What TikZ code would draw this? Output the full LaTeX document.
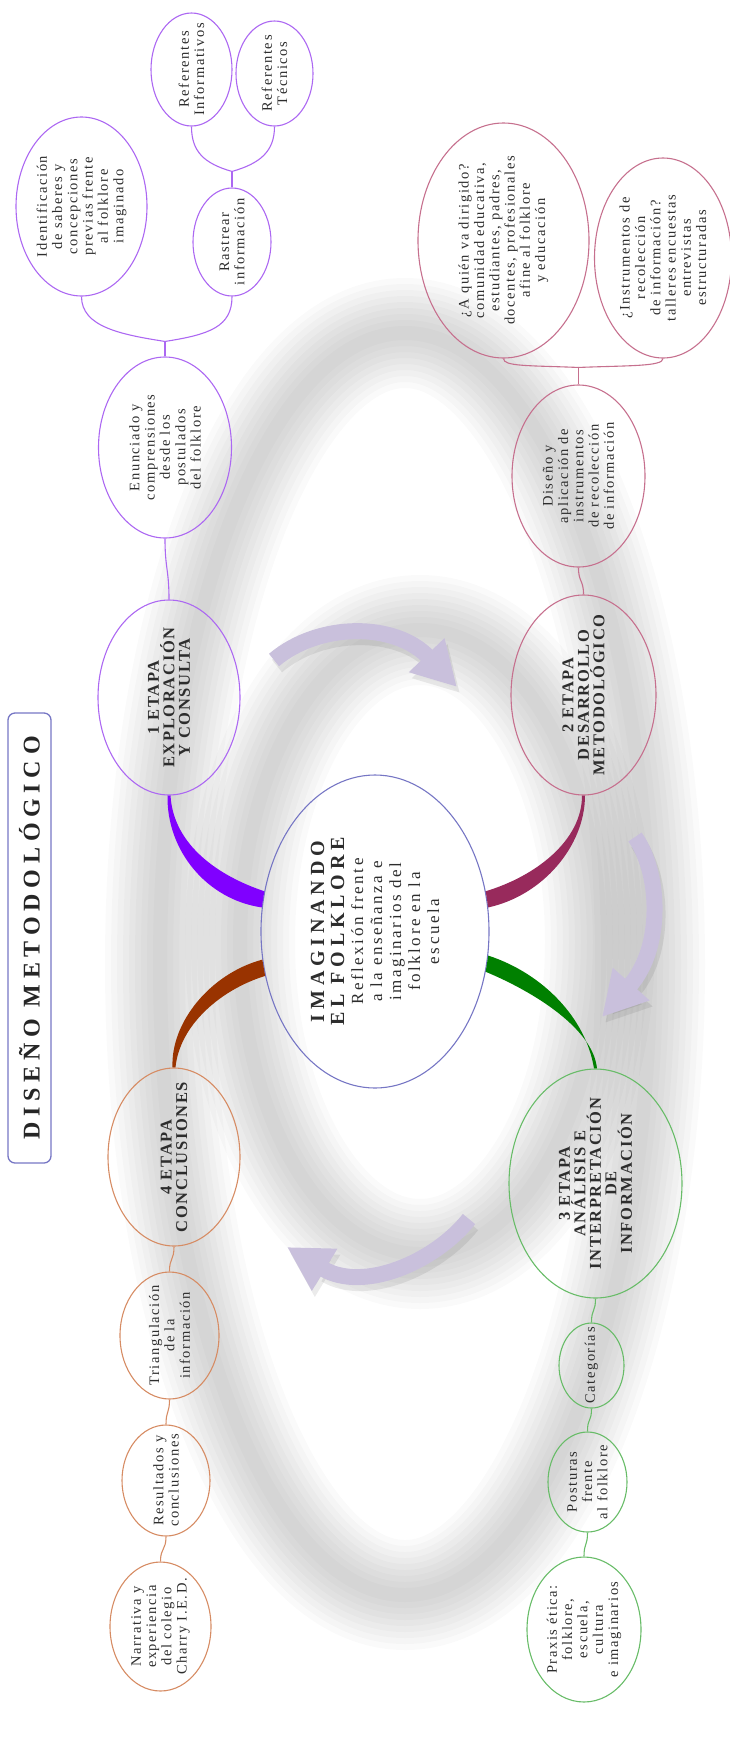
\documentclass[tikz,border=0pt]{standalone}
\usepackage{fontspec}
\setmainfont{Liberation Serif}
\newfontfamily\spacedrm[LetterSpace=11]{Liberation Serif}
\newfontfamily\spacedbf[LetterSpace=10]{Liberation Serif}
\newfontfamily\spacedhub[LetterSpace=24]{Liberation Serif}
\newfontfamily\spacedsub[LetterSpace=15]{Liberation Serif}
\newfontfamily\spacedtitle[LetterSpace=24]{Liberation Serif}
\usetikzlibrary{shapes.geometric,arrows.meta,calc}
\definecolor{violetline}{RGB}{172,104,242}
\definecolor{violetbranch}{RGB}{128,0,255}
\definecolor{maroonline}{RGB}{198,112,142}
\definecolor{maroonbranch}{RGB}{152,42,92}
\definecolor{greenline}{RGB}{104,188,104}
\definecolor{greenbranch}{RGB}{0,128,0}
\definecolor{brownline}{RGB}{214,140,100}
\definecolor{brownbranch}{RGB}{153,51,0}
\definecolor{hubline}{RGB}{118,118,196}
\definecolor{arrowfill}{RGB}{201,192,220}
\definecolor{textgray}{RGB}{45,45,45}
\newcommand\hubhead{\spacedhub\bfseries\fontsize{20}{22}\selectfont}
\begin{document}
\begin{tikzpicture}[x=1pt, y=-1pt,
      bub/.style={ellipse, draw=#1, line width=1.1pt, rotate=90, inner sep=0pt},
      leaf/.style={rotate=90, align=center, text=textgray, font=\spacedrm\fontsize{14.5}{15.3}\selectfont},
      stagetxt/.style={rotate=90, align=center, text=textgray, font=\spacedbf\bfseries\fontsize{16.5}{15.5}\selectfont},
      hubtxt/.style={rotate=90, align=center, text=textgray, font=\spacedsub\fontsize{17}{19}\selectfont},
      link/.style={draw=#1, line width=1.1pt},
      cyc/.style={draw=arrowfill, line width=16pt, -{Triangle[length=44pt, width=46pt]}},
      cycshade/.style={draw=black, opacity=0.08, line width=16pt, -{Triangle[length=44pt, width=46pt]}}]
   \useasboundingbox (0,0) rectangle (730,1738);
   \foreach \w in {110, 98, ..., 14} {
      \draw[line width=\w pt, black, opacity=0.018] (405,964) ellipse [x radius=245, y radius=631];
      \draw[line width=\w pt, black, opacity=0.018] (420,942) ellipse [x radius=180, y radius=312];
   }
   \begin{scope}[shift={(3,6)}]
      \draw[cycshade] (274,660) .. controls (319,622) and (395,622) .. (457,687);
      \draw[cycshade] (635,837) .. controls (660,872) and (664,947) .. (602,1017);
      \draw[cycshade] (469,1219) .. controls (435,1262) and (363,1293) .. (287,1247);
   \end{scope}
   \draw[cyc] (274,660) .. controls (319,622) and (395,622) .. (457,687);
   \draw[cyc] (635,837) .. controls (660,872) and (664,947) .. (602,1017);
   \draw[cyc] (469,1219) .. controls (435,1262) and (363,1293) .. (287,1247);

   \node[rotate=90, draw=hubline, rounded corners=7pt, line width=1.3pt, minimum width=450pt, minimum height=43pt,
      text=black!85, font=\spacedtitle\bfseries\fontsize{24}{26}\selectfont] (title) at (29.5,938) {DISEÑO METODOLÓGICO};

   \node[bub=hubline, minimum width=313pt, minimum height=228pt,
      label={[hubtxt]center:{{\hubhead IMAGINANDO}\\[1pt]{\hubhead EL FOLKLORE}\\Reflexión frente\\a la enseñanza e\\imaginarios del\\folklore en la\\escuela}}] (hub) at (375,931.5) {};

   \node[bub=violetline, minimum width=195pt, minimum height=142pt,
      label={[stagetxt]center:{1 ETAPA\\EXPLORACIÓN\\Y CONSULTA}}] (st1) at (169,697.5) {};
   \node[bub=violetline, minimum width=181pt, minimum height=133pt,
      label={[leaf]center:{Enunciado y\\comprensiones\\desde los\\postulados\\del folklore}}] (enun) at (165,447.5) {};
   \node[bub=violetline, minimum width=179pt, minimum height=131pt,
      label={[leaf]center:{Identificación\\de saberes y\\concepciones\\previas frente\\al folklore\\imaginado}}] (ident) at (81.5,206.5) {};
   \node[bub=violetline, minimum width=108pt, minimum height=78pt,
      label={[leaf]center:{Rastrear\\información}}] (rast) at (232,242) {};
   \node[bub=violetline, minimum width=113pt, minimum height=81pt,
      label={[leaf]center:{Referentes\\Informativos}}] (refinf) at (191.5,69.5) {};
   \node[bub=violetline, minimum width=105pt, minimum height=77pt,
      label={[leaf]center:{Referentes\\Técnicos}}] (reftec) at (274.5,73.5) {};

   \node[bub=maroonline, minimum width=200pt, minimum height=145pt,
      label={[stagetxt]center:{2 ETAPA\\DESARROLLO\\METODOLÓGICO}}] (st2) at (583.5,695) {};
   \node[bub=maroonline, minimum width=182pt, minimum height=133pt,
      label={[leaf]center:{Diseño y\\aplicación de\\instrumentos\\de recolección\\de información}}] (dis) at (578.5,476) {};
   \node[bub=maroonline, minimum width=235pt, minimum height=171pt,
      label={[leaf]center:{¿A quién va dirigido?\\comunidad educativa,\\estudiantes, padres,\\docentes, profesionales\\afine al folklore\\y educación}}] (quien) at (503.5,240.5) {};
   \node[bub=maroonline, minimum width=200pt, minimum height=137pt,
      label={[leaf]center:{¿Instrumentos de\\recolección\\de información?\\talleres encuestas\\entrevistas\\estructuradas}}] (instr) at (663,258) {};

   \node[bub=greenline, minimum width=229pt, minimum height=173pt,
      label={[stagetxt]center:{3 ETAPA\\ANÁLISIS E\\INTERPRETACIÓN\\DE\\INFORMACIÓN}}] (st3) at (595.5,1183.5) {};
   \node[bub=greenline, minimum width=85pt, minimum height=65pt,
      label={[leaf]center:{Categorías}}] (cat) at (591.5,1365.5) {};
   \node[bub=greenline, minimum width=100pt, minimum height=79pt,
      label={[leaf]center:{Posturas\\frente\\al folklore}}] (post) at (587.5,1482) {};
   \node[bub=greenline, minimum width=145pt, minimum height=114pt,
      label={[leaf]center:{Praxis ética:\\folklore,\\escuela,\\cultura\\e imaginarios}}] (prax) at (584,1629.5) {};

   \node[bub=brownline, minimum width=178pt, minimum height=132pt,
      label={[stagetxt]center:{4 ETAPA\\CONCLUSIONES}}] (st4) at (174,1157) {};
   \node[bub=brownline, minimum width=127pt, minimum height=99pt,
      label={[leaf]center:{Triangulación\\de la\\información}}] (tri) at (169.5,1335.5) {};
   \node[bub=brownline, minimum width=111pt, minimum height=88pt,
      label={[leaf]center:{Resultados y\\conclusiones}}] (res) at (166,1480.5) {};
   \node[bub=brownline, minimum width=129pt, minimum height=101pt,
      label={[leaf]center:{Narrativa y\\experiencia\\del colegio\\Charry I.E.D.}}] (narr) at (160.5,1626.5) {};

   \fill[violetbranch] (hub.70) .. controls +(-45,-15) and +(3,50) .. ([xshift=1.5pt]st1.west)
      -- ([xshift=-1.5pt]st1.west) .. controls +(-1,55) and +(-55,-8) .. (hub.78) -- cycle;
   \fill[brownbranch] (hub.104) .. controls +(-52,14) and +(-2,-45) .. ([xshift=-1.5pt]st4.east)
      -- ([xshift=1.5pt]st4.east) .. controls +(4,-42) and +(-45,14) .. (hub.112) -- cycle;
   \fill[maroonbranch] (hub.290) .. controls +(50,-15) and +(0,45) .. ([xshift=-1.5pt]st2.west)
      -- ([xshift=1.5pt]st2.west) .. controls +(0,50) and +(55,-12) .. (hub.282) -- cycle;
   \fill[greenbranch] (hub.258) .. controls +(55,18) and +(-8,-50) .. ([xshift=-1.5pt]st3.east)
      -- ([xshift=1.5pt]st3.east) .. controls +(-4,-40) and +(48,20) .. (hub.250) -- cycle;

   \coordinate (forka) at ($(enun.east)+(0,-15)$);
   \coordinate (forkb) at ($(rast.east)+(0,-16)$);
   \coordinate (forkc) at ($(dis.east)+(0,-17)$);
   \draw[link=violetline] (st1.east) .. controls +(0,-30) and +(0,30) .. (enun.west);
   \draw[link=violetline] (enun.east) -- (forka);
   \draw[link=violetline] (forka) .. controls +(-45,-7) and +(0,30) .. (ident.west);
   \draw[link=violetline] (forka) .. controls +(45,-7) and +(0,30) .. (rast.west);
   \draw[link=violetline] (rast.east) -- (forkb);
   \draw[link=violetline] (forkb) .. controls +(-28,-8) and +(0,25) .. (refinf.west);
   \draw[link=violetline] (forkb) .. controls +(28,-8) and +(0,25) .. (reftec.west);
   \draw[link=maroonline] (st2.east) .. controls +(0,-15) and +(0,15) .. (dis.west);
   \draw[link=maroonline] (dis.east) -- (forkc);
   \draw[link=maroonline] (forkc) .. controls +(-50,-2) and +(0,8) .. (quien.west);
   \draw[link=maroonline] (forkc) .. controls +(50,-2) and +(0,8) .. (instr.west);
   \draw[link=greenline] (st3.west) .. controls +(0,14) and +(0,-14) .. (cat.east);
   \draw[link=greenline] (cat.west) .. controls +(0,14) and +(0,-14) .. (post.east);
   \draw[link=greenline] (post.west) .. controls +(0,14) and +(0,-14) .. (prax.east);
   \draw[link=brownline] (st4.west) .. controls +(0,14) and +(0,-14) .. (tri.east);
   \draw[link=brownline] (tri.west) .. controls +(0,14) and +(0,-14) .. (res.east);
   \draw[link=brownline] (res.west) .. controls +(0,14) and +(0,-14) .. (narr.east);
\end{tikzpicture}
\end{document}
